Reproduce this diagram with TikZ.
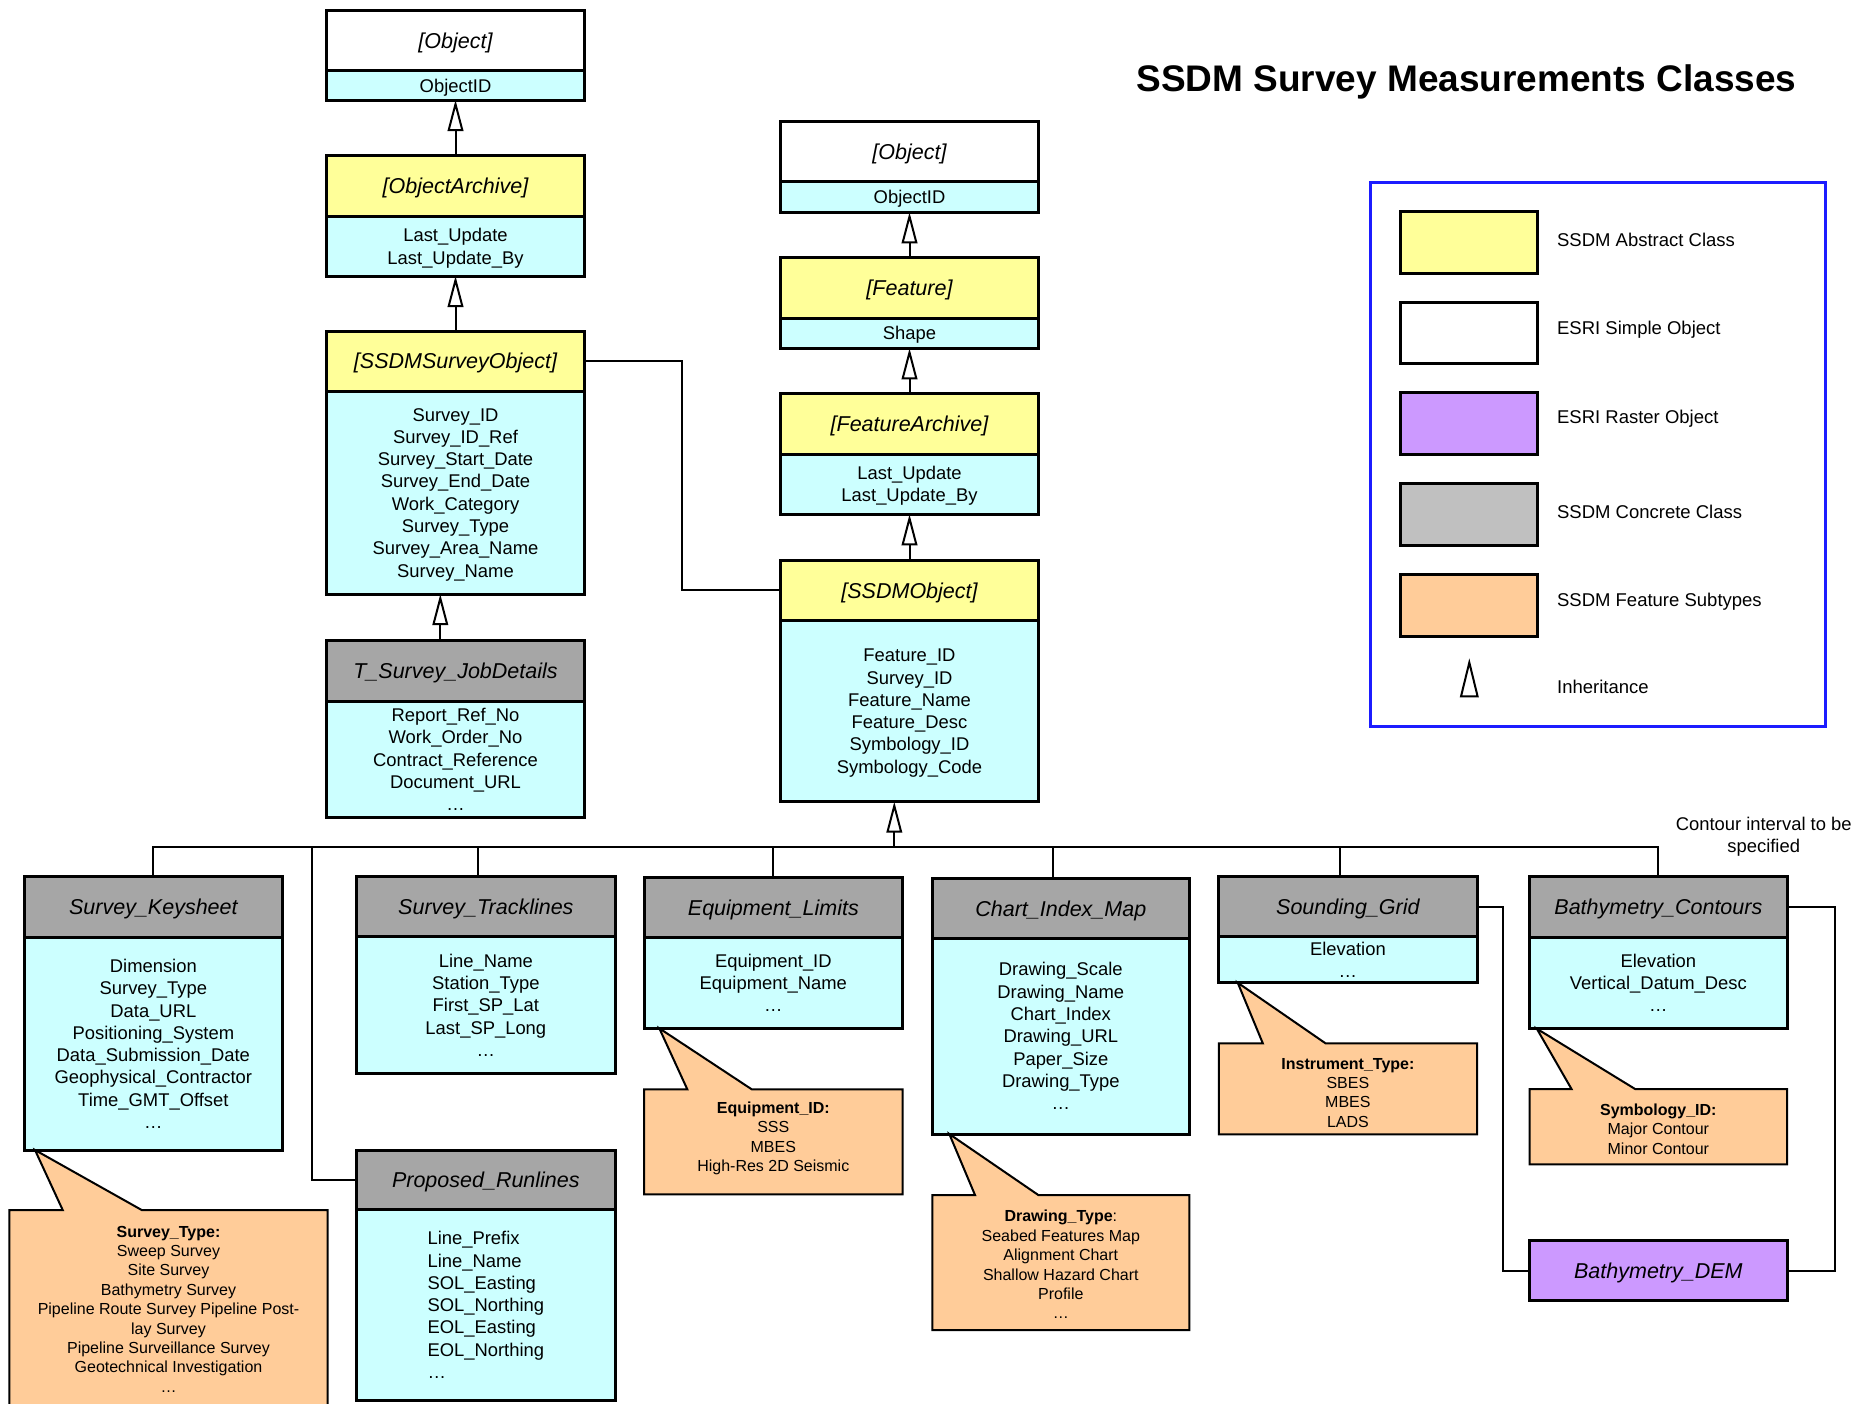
\documentclass[tikz,border=0pt]{standalone}
\usepackage{fontspec}
\setmainfont{Liberation Sans}
\usetikzlibrary{arrows.meta,fit,calc}
\definecolor{absY}{HTML}{FFFF99}
\definecolor{attrC}{HTML}{CCFFFF}
\definecolor{hdrG}{HTML}{A6A6A6}
\definecolor{legG}{HTML}{C0C0C0}
\definecolor{rastP}{HTML}{CC99FF}
\definecolor{subO}{HTML}{FFCC99}
\definecolor{legB}{HTML}{1C1CFF}
\newcommand{\attrfont}{\fontsize{9.2pt}{11.15pt}\selectfont}
\newcommand{\hdrfont}{\fontsize{10.75pt}{12.5pt}\selectfont\itshape}
\newcommand{\notefont}{\fontsize{8pt}{9.7pt}\selectfont}
\newcommand{\legfont}{\fontsize{9.25pt}{11pt}\selectfont}
% #1 name, #2 x1, #3 y1, #4 x2, #5 y2, #6 options, #7 text
\newcommand{\cell}[7]{%
  \node[#6,minimum width={(#4-#2)*0.5pt},minimum height={(#5-#3)*0.5pt}] (#1) at ({(#2+#4)/2},{(#3+#5)/2}) {#7};}
\newcommand{\umlclass}[9]{%
  \cell{#1h}{#2}{#3}{#4}{#5}{hdr,#7}{#8}%
  \cell{#1b}{#2}{#5}{#4}{#6}{bdy}{#9}}
\begin{document}
\begin{tikzpicture}[x=0.5pt,y=-0.5pt,
  box/.style={draw=black, line width=1.5pt, inner sep=0pt, outer sep=0pt},
  hdr/.style={box, font=\hdrfont, text height=7.7pt, text depth=0pt},
  bdy/.style={box, fill=attrC, font=\attrfont, align=center, text depth=0pt},
  conn/.style={draw=black, line width=1pt},
  inh/.style={conn, -{Triangle[length=15.5pt, width=7.8pt, fill=white, line width=1pt]}},
  note/.style={fill=subO, draw=black, line width=1pt, line join=miter},
  notetext/.style={font=\notefont, align=center, inner sep=0pt},
  swatch/.style={draw=black, line width=1.5pt, inner sep=0pt},
  leglabel/.style={font=\legfont, anchor=west, inner sep=0pt}]
\useasboundingbox (0,0) rectangle (1856,1403);

% ---------- title and note ----------
\node[font=\fontsize{18.5pt}{20pt}\selectfont\bfseries, anchor=base, inner sep=0pt] (title) at (1466.5,91.7) {SSDM Survey Measurements Classes};
\node[font=\attrfont, align=center, inner sep=0pt] (cnote) at (1763.7,837) {Contour interval to be\\specified};

% ---------- upper left chain ----------
\umlclass{objA}{326.7}{10}{584.3}{70.7}{100}{fill=white}{[Object]}{ObjectID}
\umlclass{oarch}{326.7}{155.7}{584.3}{216.7}{276}{fill=absY}{[ObjectArchive]}{Last\_Update\\Last\_Update\_By}
\umlclass{sso}{326.7}{331.1}{584.3}{391.3}{594.1}{fill=absY}{[SSDMSurveyObject]}{Survey\_ID\\Survey\_ID\_Ref\\Survey\_Start\_Date\\Survey\_End\_Date\\Work\_Category\\Survey\_Type\\Survey\_Area\_Name\\Survey\_Name}
\umlclass{tjob}{326.7}{640.8}{584.3}{701.6}{817.2}{fill=hdrG}{T\_Survey\_JobDetails}{Report\_Ref\_No\\Work\_Order\_No\\Contract\_Reference\\Document\_URL\\…}

% ---------- upper middle chain ----------
\umlclass{objB}{780.7}{121.7}{1038.3}{181.7}{212.3}{fill=white}{[Object]}{ObjectID}
\umlclass{feat}{780.7}{257.3}{1038.3}{318.3}{348.3}{fill=absY}{[Feature]}{Shape}
\umlclass{farch}{780.7}{393.3}{1038.3}{454}{514.3}{fill=absY}{[FeatureArchive]}{Last\_Update\\Last\_Update\_By}
\umlclass{sdo}{780.7}{560}{1038.3}{620.7}{801.7}{fill=absY}{[SSDMObject]}{Feature\_ID\\Survey\_ID\\Feature\_Name\\Feature\_Desc\\Symbology\_ID\\Symbology\_Code}

% ---------- bottom row ----------
\umlclass{ks}{24}{876.7}{282.7}{937.7}{1150}{fill=hdrG}{Survey\_Keysheet}{Dimension\\Survey\_Type\\Data\_URL\\Positioning\_System\\Data\_Submission\_Date\\Geophysical\_Contractor\\Time\_GMT\_Offset\\…}
\umlclass{trk}{356.7}{876.6}{615}{936.9}{1073.6}{fill=hdrG}{Survey\_Tracklines}{Line\_Name\\Station\_Type\\First\_SP\_Lat\\Last\_SP\_Long\\…}
\cell{prh}{356.7}{1150.2}{615}{1209.7}{hdr,fill=hdrG}{Proposed\_Runlines}
\cell{prb}{356.7}{1209.7}{615}{1400.2}{bdy,align=left}{Line\_Prefix\\Line\_Name\\SOL\_Easting\\SOL\_Northing\\EOL\_Easting\\EOL\_Northing\\…}
\umlclass{eq}{644}{877.3}{902.7}{937.7}{1028.3}{fill=hdrG}{Equipment\_Limits}{Equipment\_ID\\Equipment\_Name\\…}
\umlclass{cim}{932.3}{878.3}{1189.3}{938.3}{1134}{fill=hdrG}{Chart\_Index\_Map}{Drawing\_Scale\\Drawing\_Name\\Chart\_Index\\Drawing\_URL\\Paper\_Size\\Drawing\_Type\\…}
\umlclass{sg}{1218.8}{876.7}{1477}{936.7}{982.7}{fill=hdrG}{Sounding\_Grid}{Elevation\\…}
\umlclass{bc}{1529.7}{876.7}{1787}{937.3}{1028.7}{fill=hdrG}{Bathymetry\_Contours}{Elevation\\Vertical\_Datum\_Desc\\…}
\cell{dem}{1529.7}{1240.7}{1787}{1300.7}{hdr,fill=rastP}{Bathymetry\_DEM}

% ---------- callouts ----------
\path[note] (9.3,1210) -- (62.7,1210) -- (35,1150) -- (141.7,1210) -- (327.7,1210) -- (327.7,1410) -- (9.3,1410) -- cycle;
\node[notetext] (ksn) at (168.5,1309) {\textbf{Survey\_Type:}\\Sweep Survey\\Site Survey\\Bathymetry Survey\\Pipeline Route Survey Pipeline Post-\\lay Survey\\Pipeline Surveillance Survey\\Geotechnical Investigation\\…};

\path[note] (644,1089.3) -- (687.3,1089.3) -- (659.3,1028.3) -- (751.7,1089.3) -- (902.7,1089.3) -- (902.7,1194.3) -- (644,1194.3) -- cycle;
\node[notetext] (eqn) at (773.3,1138.5) {\textbf{Equipment\_ID:}\\SSS\\MBES\\High-Res 2D Seismic};

\path[note] (932.3,1195) -- (975,1195) -- (949.3,1134) -- (1038.3,1195) -- (1189.3,1195) -- (1189.3,1330) -- (932.3,1330) -- cycle;
\node[notetext] (cimn) at (1060.8,1264.5) {\textbf{Drawing\_Type}:\\Seabed Features Map\\Alignment Chart\\Shallow Hazard Chart\\Profile\\…};

\path[note] (1218.8,1043.3) -- (1262.8,1043.3) -- (1237.7,982.7) -- (1325.5,1043.3) -- (1477,1043.3) -- (1477,1134.3) -- (1218.8,1134.3) -- cycle;
\node[notetext] (sgn) at (1347.9,1092.7) {\textbf{Instrument\_Type:}\\SBES\\MBES\\LADS};

\path[note] (1529.7,1089) -- (1571.5,1089) -- (1536.8,1028.7) -- (1635.1,1089) -- (1787,1089) -- (1787,1164.3) -- (1529.7,1164.3) -- cycle;
\node[notetext] (bcn) at (1658.3,1128.9) {\textbf{Symbology\_ID:}\\Major Contour\\Minor Contour};

% ---------- connectors ----------
\draw[inh] (oarchh.north) -- (objAb.south);
\draw[inh] (ssoh.north) -- (oarchb.south);
\draw[inh] ($(tjobh.north)+(-15.2,0)$) -- ($(ssob.south)+(-15.2,0)$);
\draw[inh] (feath.north) -- (objBb.south);
\draw[inh] (farchh.north) -- (featb.south);
\draw[inh] (sdoh.north) -- (farchb.south);
\draw[conn] (ssoh.east) -- ++(98,0) |- (sdoh.west);

\coordinate (bus) at (894.3,847.3);
\coordinate (prj) at (311.7,847.3);
\draw[conn] (ksh.north) |- (bus);
\draw[conn] ($(trkh.north)+(-7.5,0)$) |- (bus);
\draw[conn] (eqh.north) |- (bus);
\draw[conn] ($(cimh.north)+(-7.5,0)$) |- (bus);
\draw[conn] ($(sgh.north)+(-7.7,0)$) |- (bus);
\draw[conn] (bch.north) |- (bus);
\draw[conn] (prh.west) -| (prj);
\draw[inh] (bus) -- (bus |- sdob.south);
\draw[conn] (sgh.east) -- ++(25.5,0) |- (dem.west);
\draw[conn] (bch.east) -- ++(47.7,0) |- (dem.east);

% ---------- legend ----------
\node[draw=legB, line width=1.5pt, inner sep=0pt, fit={(1370,182) (1825,726)}] (leg) {};
\node[swatch, fill=absY, fit={(1400,211.8) (1537.7,273.6)}] (lg1) {};
\node[swatch, fill=white, fit={(1400,302.7) (1537.7,363.7)}] (lg2) {};
\node[swatch, fill=rastP, fit={(1400,392.8) (1537.7,454.6)}] (lg3) {};
\node[swatch, fill=legG, fit={(1400,483.7) (1537.7,545.5)}] (lg4) {};
\node[swatch, fill=subO, fit={(1400,574.6) (1537.7,636.4)}] (lg5) {};
\draw[line width=1pt, fill=white] (1469.3,662.5) -- (1477.6,696.4) -- (1461,696.4) -- cycle;
\node[leglabel] (lt1) at (1556.7,239.8) {SSDM Abstract Class};
\node[leglabel] (lt2) at (1556.7,330) {ESRI Simple Object};
\node[leglabel] (lt3) at (1556.7,418.3) {ESRI Raster Object};
\node[leglabel] (lt4) at (1556.7,511.7) {SSDM Concrete Class};
\node[leglabel] (lt5) at (1556.7,601.8) {SSDM Feature Subtypes};
\node[leglabel] (lt6) at (1556.7,686.9) {Inheritance};
\end{tikzpicture}
\end{document}
